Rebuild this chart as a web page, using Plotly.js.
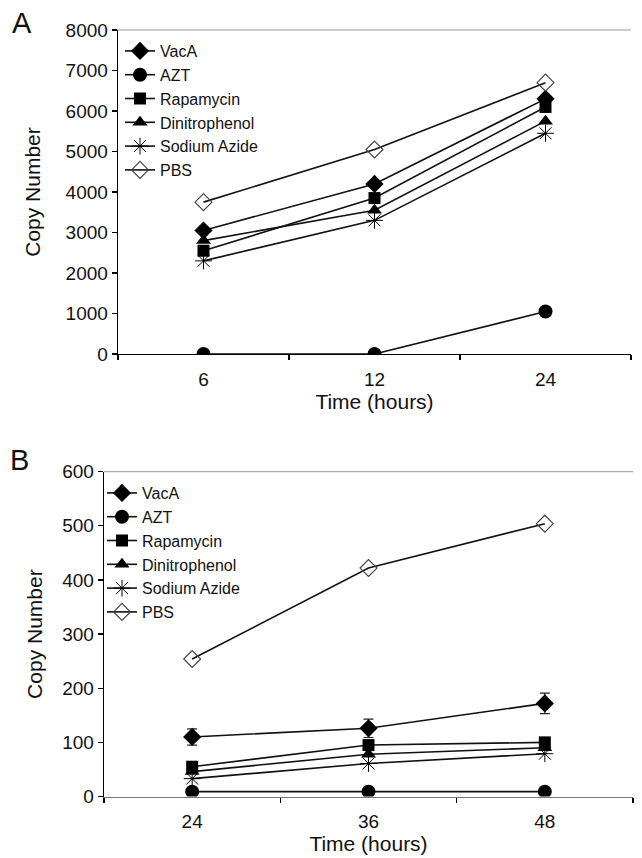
<!DOCTYPE html>
<html>
<head>
<meta charset="utf-8">
<script src="https://cdn.plot.ly/plotly-3.0.1.min.js"></script>
<style>html,body{margin:0;padding:0;background:#fff;}#chart{width:642px;height:858px;}</style>
</head>
<body>
<div id="chart"></div>
<script>
// Panel A
const timesA = ["6", "12", "24"];
const vacaA = [3050, 4200, 6300];
const aztA = [0, 0, 1050];
const rapaA = [2550, 3850, 6100];
const dnpA = [2800, 3550, 5750];
const azideA = [2300, 3300, 5450];
const pbsA = [3750, 5050, 6700];

// Panel B
const timesB = ["24", "36", "48"];
const vacaB = [110, 126, 172];
const vacaBErr = [15, 17, 19];
const aztB = [9, 9, 9];
const rapaB = [55, 95, 100];
const dnpB = [46, 78, 90];
const azideB = [33, 61, 79];
const pbsB = [254, 422, 504];

const seriesNames = ["VacA", "AZT", "Rapamycin", "Dinitrophenol", "Sodium Azide", "PBS"];

const FONT = "Liberation Sans, Arial, sans-serif";
const markerStyles = [
  {symbol: "diamond", size: 14, color: "#000"},
  {symbol: "circle", size: 14, color: "#000"},
  {symbol: "square", size: 12, color: "#000"},
  {symbol: "triangle-up", size: 13, color: "#000"},
  {symbol: "asterisk-open", size: 14, color: "#000", line: {color: "#222", width: 1}},
  {symbol: "diamond-open", size: 13, color: "#444", line: {color: "#444", width: 1.2}}
];

function mk(x, y, i, xa, ya, leg, err) {
  const m = Object.assign({}, markerStyles[i]);
  const t = {
    x: x, y: y, name: seriesNames[i], type: "scatter", mode: "lines+markers",
    xaxis: xa, yaxis: ya, legend: leg,
    line: {color: "#111", width: 1.6},
    marker: m
  };
  if (err) t.error_y = {type: "data", array: err, visible: true, color: "#222", thickness: 1.2, width: 5};
  return t;
}

const dataA = [vacaA, aztA, rapaA, dnpA, azideA, pbsA];
const dataB = [vacaB, aztB, rapaB, dnpB, azideB, pbsB];
const traces = [];
dataA.forEach((d, i) => traces.push(mk(timesA, d, i, "x", "y", "legend")));
dataB.forEach((d, i) => traces.push(mk(timesB, d, i, "x2", "y2", "legend2", i === 0 ? vacaBErr : null)));

const W = 642, H = 858;
const px = v => v / W, py = v => 1 - v / H;

const axisCommon = {
  showgrid: false, zeroline: false, showline: true, linecolor: "#000", linewidth: 1.3,
  ticks: "outside", ticklen: 5, tickcolor: "#000", tickwidth: 1.2,
  tickfont: {family: FONT, size: 19, color: "#111"}
};
const titleFont = {family: FONT, size: 21, color: "#111"};

const layout = {
  width: W, height: H,
  margin: {l: 0, r: 0, t: 0, b: 0},
  paper_bgcolor: "#fff", plot_bgcolor: "#fff",
  showlegend: true,
  font: {family: FONT, color: "#111"},
  xaxis: Object.assign({}, axisCommon, {
    domain: [px(118), px(631)], anchor: "y", type: "category",
    tickson: "boundaries", range: [-0.5, 2.5], ticklabelstandoff: 8,
    title: {text: "Time (hours)", font: titleFont, standoff: 4}
  }),
  yaxis: Object.assign({}, axisCommon, {
    domain: [py(354), py(30)], anchor: "x", range: [0, 8000], dtick: 1000,
    title: {text: "Copy Number", font: titleFont, standoff: 19}
  }),
  xaxis2: Object.assign({}, axisCommon, {
    domain: [px(104), px(633)], anchor: "y2", type: "category",
    tickson: "boundaries", range: [-0.5, 2.5], ticklabelstandoff: 7, linecolor: "#777",
    title: {text: "Time (hours)", font: titleFont, standoff: 4}
  }),
  yaxis2: Object.assign({}, axisCommon, {
    domain: [py(796.5), py(471.7)], anchor: "x2", range: [0, 600], dtick: 100,
    title: {text: "Copy Number", font: titleFont, standoff: 13}
  }),
  legend: {
    x: px(120), y: py(34), xanchor: "left", yanchor: "top",
    bgcolor: "rgba(0,0,0,0)", font: {family: FONT, size: 16, color: "#111"},
    itemwidth: 30, tracegroupgap: 0
  },
  legend2: {
    x: px(102), y: py(476), xanchor: "left", yanchor: "top",
    bgcolor: "rgba(0,0,0,0)", font: {family: FONT, size: 16, color: "#111"},
    itemwidth: 30, tracegroupgap: 0
  },
  shapes: [
    {type: "line", xref: "x domain", yref: "y domain", x0: 0, x1: 1, y0: 1, y1: 1, line: {color: "#999", width: 1}},
    {type: "line", xref: "x2 domain", yref: "y2 domain", x0: 0, x1: 1, y0: 1, y1: 1, line: {color: "#999", width: 1}}
  ],
  annotations: [
    {text: "A", xref: "paper", yref: "paper", x: px(10), y: py(5), xanchor: "left", yanchor: "top", showarrow: false, font: {family: FONT, size: 29, color: "#111"}},
    {text: "B", xref: "paper", yref: "paper", x: px(8), y: py(442), xanchor: "left", yanchor: "top", showarrow: false, font: {family: FONT, size: 29, color: "#111"}}
  ]
};

Plotly.newPlot("chart", traces, layout, {displayModeBar: false, staticPlot: true});
</script>
</body>
</html>
